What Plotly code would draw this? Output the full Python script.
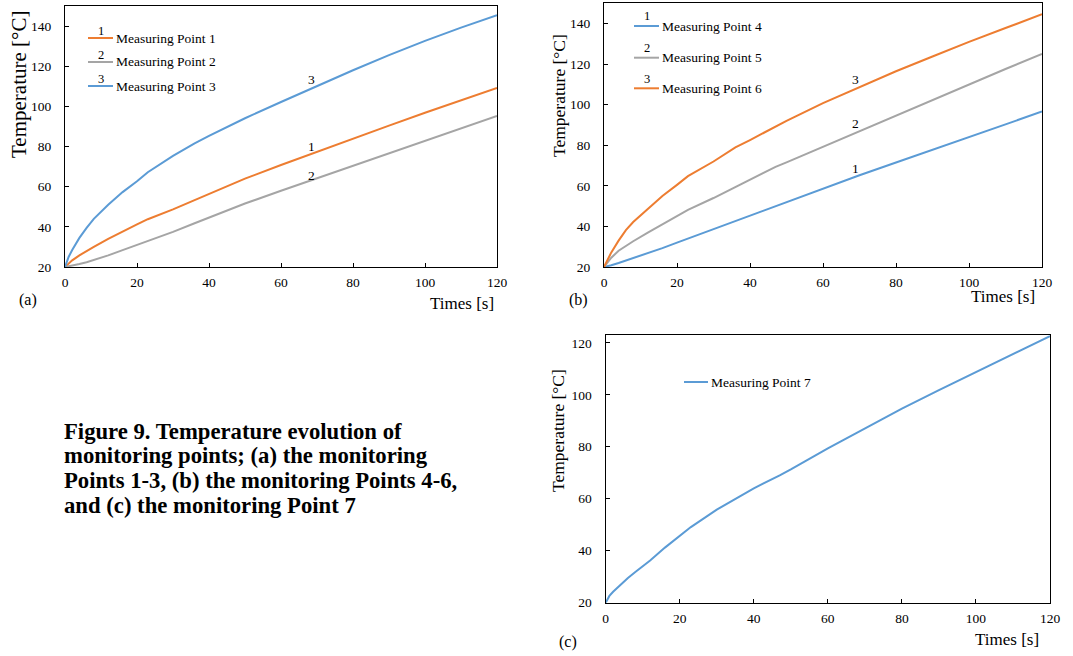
import plotly.graph_objects as go

W, H = 1073, 656
FONT = "Liberation Serif"

time_s = [0, 1, 2, 4, 6, 8, 12, 16, 20, 23, 30, 36, 40, 47, 50, 60, 70, 80, 90, 100, 110, 120]

# Panel (a)
mp1 = [20, 21.8, 23.3, 25.8, 28, 30, 34, 37.8, 41.2, 43.8, 48.7, 53.3, 56.3, 61.7, 64, 70.8, 77.4, 84, 90.4, 96.8, 103, 109.2]
mp2 = [20, 20.3, 20.7, 21.5, 22.4, 23.5, 25.8, 28.4, 31, 33, 37.5, 41.8, 44.6, 49.5, 51.6, 58, 64.2, 70.4, 76.6, 82.8, 89, 95.2]
mp3 = [20, 25, 28.5, 34.5, 39.5, 44, 51, 57.3, 62.7, 67.2, 75.3, 81.6, 85.3, 91.5, 94.1, 102.2, 110.2, 118, 125.5, 132.6, 139.2, 145.4]
# Panel (b)
mp4 = [20, 20.4, 20.9, 22, 23.2, 24.4, 26.8, 29.3, 32, 34, 38.8, 42.8, 45.5, 50, 52, 58.7, 65.2, 71.5, 77.7, 84, 90.3, 96.7]
mp5 = [20, 22.6, 24.6, 28, 30.5, 32.7, 37, 41, 45, 48.2, 54, 59.4, 63, 69.4, 71.6, 79.3, 87, 94.8, 102.6, 110.2, 117.6, 125]
mp6 = [20, 24, 27.2, 33, 38.2, 42.2, 48.5, 55, 60.5, 64.8, 72, 79, 82.6, 89.3, 92, 100.8, 108.5, 116.5, 123.8, 131, 137.8, 144.6]
# Panel (c)
mp7 = [20, 22.6, 24.2, 27, 29.5, 31.8, 36.2, 41.2, 45.8, 49.1, 55.8, 60.6, 64, 69, 71.3, 79.4, 87, 94.7, 101.8, 108.8, 115.6, 122.6]

names_a = ["Measuring Point 1", "Measuring Point 2", "Measuring Point 3"]
names_b = ["Measuring Point 4", "Measuring Point 5", "Measuring Point 6"]
names_c = ["Measuring Point 7"]
curve_ids = ["1", "2", "3"]

x_ticks = [0, 20, 40, 60, 80, 100, 120]
y_ticks_ab = [20, 40, 60, 80, 100, 120, 140]
y_ticks_c = [20, 40, 60, 80, 100, 120]

# curve label positions (time, temperature)
lab_a = [(68.5, 79.9), (68.5, 65.8), (68.5, 113.6)]
lab_b = [(68.8, 68.5), (68.8, 90.9), (68.8, 112.3)]

caption = ["Figure 9. Temperature evolution of",
           "monitoring points; (a) the monitoring",
           "Points 1-3, (b) the monitoring Points 4-6,",
           "and (c) the monitoring Point 7"]

ORANGE, GRAY, BLUE = "#ED7D31", "#A5A5A5", "#5B9BD5"

def px(x):
    return x / W

def py(y):
    return 1 - y / H

fig = go.Figure()

series = [
    ("x", "y", time_s, mp1, names_a[0], ORANGE),
    ("x", "y", time_s, mp2, names_a[1], GRAY),
    ("x", "y", time_s, mp3, names_a[2], BLUE),
    ("x2", "y2", time_s, mp4, names_b[0], BLUE),
    ("x2", "y2", time_s, mp5, names_b[1], GRAY),
    ("x2", "y2", time_s, mp6, names_b[2], ORANGE),
    ("x3", "y3", time_s, mp7, names_c[0], BLUE),
]
for xa, ya, xs, ys, nm, col in series:
    fig.add_trace(go.Scatter(x=xs, y=ys, name=nm, mode="lines", xaxis=xa, yaxis=ya,
                             line=dict(color=col, width=2),
                             showlegend=False))

ax_common = dict(showline=True, linecolor="black", linewidth=1.3, mirror=True,
                 ticks="inside", ticklen=4, tickcolor="black", tickwidth=1,
                 showgrid=False, zeroline=False, automargin=False,
                 tickfont=dict(family=FONT, size=13.5, color="black"))

fig.update_layout(
    width=W, height=H, margin=dict(l=0, r=0, t=0, b=0),
    paper_bgcolor="white", plot_bgcolor="white",
    showlegend=False,
    xaxis=dict(domain=[px(65), px(497)], range=[0, 120], tickvals=x_ticks, anchor="y",
               ticklabelstandoff=3, **ax_common),
    yaxis=dict(domain=[py(267), py(6)], range=[20, 150], tickvals=y_ticks_ab, anchor="x",
               ticklabelstandoff=10, **ax_common),
    xaxis2=dict(domain=[px(604), px(1042)], range=[0, 120], tickvals=x_ticks, anchor="y2",
                ticklabelstandoff=3, **ax_common),
    yaxis2=dict(domain=[py(267), py(3.3)], range=[20, 150], tickvals=y_ticks_ab, anchor="x2",
                ticklabelstandoff=10, **ax_common),
    xaxis3=dict(domain=[px(605.7), px(1050)], range=[0, 120], tickvals=x_ticks, anchor="y3",
                ticklabelstandoff=3, **ax_common),
    yaxis3=dict(domain=[py(602.7), py(335)], range=[20, 123], tickvals=y_ticks_c, anchor="x3",
                ticklabelstandoff=10, **ax_common),
)

ann = []
shapes = []

def text(x, y, s, size=13.5, xanchor="center", yanchor="middle", angle=0):
    ann.append(dict(x=px(x), y=py(y), xref="paper", yref="paper", text=s, showarrow=False,
                    xanchor=xanchor, yanchor=yanchor, textangle=angle,
                    font=dict(family=FONT, size=size, color="black")))

# curve labels
for (t, v), s in zip(lab_a, curve_ids):
    ann.append(dict(x=t, y=v, xref="x", yref="y", text=s, showarrow=False,
                    font=dict(family=FONT, size=13.5, color="black")))
for (t, v), s in zip(lab_b, curve_ids):
    ann.append(dict(x=t, y=v, xref="x2", yref="y2", text=s, showarrow=False,
                    font=dict(family=FONT, size=13.5, color="black")))

# manual legends
def legend(x0, x1, rows, names, colors, ids, idoff):
    for i, (yy, nm, col) in enumerate(zip(rows, names, colors)):
        shapes.append(dict(type="line", xref="paper", yref="paper",
                           x0=px(x0), x1=px(x1), y0=py(yy), y1=py(yy),
                           line=dict(color=col, width=2)))
        text(x1 + 1, yy, nm, size=13.5, xanchor="left")
        if ids:
            text((x0 + x1) / 2, yy - idoff, ids[i], size=12.5)

legend(88, 113, [38, 62, 86], names_a, [ORANGE, GRAY, BLUE], curve_ids, 7)
legend(634, 659, [26, 57.7, 88.3], names_b, [BLUE, GRAY, ORANGE], curve_ids, 9.5)
legend(684, 708, [382], names_c, [BLUE], None, 0)

# axis titles
text(19, 85, "Temperature [°C]", size=21, angle=-90)
text(559, 96, "Temperature [°C]", size=17.5, angle=-90)
text(558, 431, "Temperature [°C]", size=17.5, angle=-90)
text(462, 303, "Times [s]", size=17)
text(1003, 296, "Times [s]", size=17)
text(1007, 639, "Times [s]", size=17)

# panel labels
text(28, 300, "(a)", size=16)
text(578, 300, "(b)", size=16)
text(568, 642, "(c)", size=16)

# caption
for i, line in enumerate(caption):
    ann.append(dict(x=px(62), y=py(431 + i * 24.7), xref="paper", yref="paper",
                    text="<b>" + line + "</b>", showarrow=False, xanchor="left", yanchor="middle",
                    font=dict(family=FONT, size=22.7, color="black")))

fig.update_layout(annotations=ann, shapes=shapes)
fig.write_html("out.html", config={"displayModeBar": False},
               post_script="document.body.style.margin='0';document.body.style.padding='0';")
